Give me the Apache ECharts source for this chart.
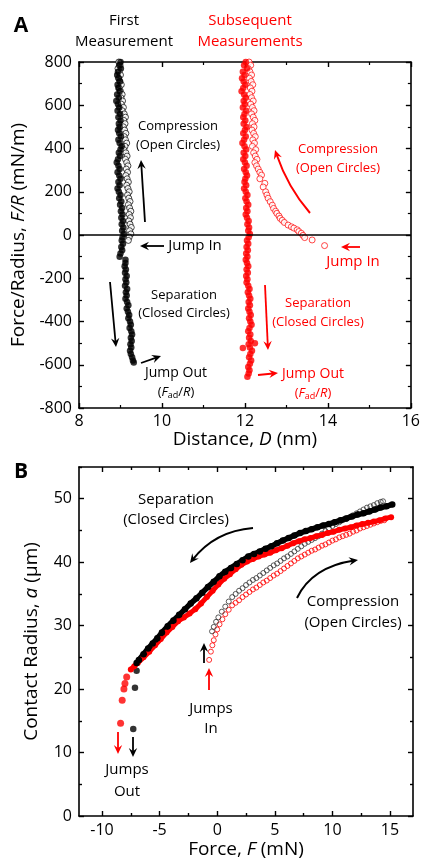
<!DOCTYPE html>
<html><head><meta charset="utf-8">
<script src="https://cdn.jsdelivr.net/npm/echarts@6/dist/echarts.min.js"></script>
<style>html,body{margin:0;padding:0;background:#fff}#c{width:423px;height:862px}</style>
</head><body><div id="c"></div>
<script>
// ---------- Panel A: Force/Radius vs Distance  [D (nm), F/R (mN/m)] ----------
const blackSepA = [[9.00,800],[8.97,785],[9.01,770],[8.94,755],[8.92,740],[8.96,725],[8.99,710],[8.93,695],[8.95,680],[8.98,665],[8.92,650],[8.96,635],[8.90,620],[8.94,605],[8.97,590],[8.93,575],[8.99,560],[8.95,545],[9.00,530],[8.96,515],[8.98,500],[8.94,485],[8.97,470],[9.01,455],[8.95,440],[8.98,425],[9.03,410],[9.00,395],[8.96,380],[8.99,365],[8.94,350],[8.91,335],[8.95,320],[8.98,305],[8.93,290],[8.97,275],[9.00,260],[8.95,245],[8.98,230],[8.93,215],[8.96,200],[9.00,185],[8.97,170],[9.02,155],[8.99,140],[9.04,125],[9.01,110],[9.05,95],[9.02,80],[9.06,65],[9.03,50],[9.07,35],[9.04,20],[9.08,5],[9.05,-10],[9.03,-25],[9.06,-40],[9.02,-55],[9.04,-70],[9.00,-85],[8.98,-100],[9.12,-115],[9.12,-130],[9.10,-145],[9.13,-160],[9.11,-175],[9.15,-190],[9.12,-205],[9.14,-220],[9.11,-235],[9.16,-250],[9.13,-265],[9.15,-280],[9.12,-295],[9.16,-310],[9.19,-325],[9.15,-340],[9.18,-355],[9.21,-370],[9.19,-385],[9.23,-400],[9.25,-415],[9.22,-430],[9.26,-445],[9.28,-460],[9.25,-475],[9.27,-490],[9.24,-505],[9.26,-520],[9.23,-535],[9.25,-550],[9.28,-565],[9.30,-580],[9.32,-590]];
const blackCompA = [[8.96,800],[8.99,785],[8.94,770],[8.97,755],[9.00,740],[8.95,725],[8.98,710],[9.02,695],[8.97,680],[9.00,665],[9.04,650],[9.01,635],[9.05,620],[9.02,605],[9.07,590],[9.04,575],[9.09,560],[9.12,545],[9.08,530],[9.11,515],[9.07,500],[9.10,485],[9.13,470],[9.09,455],[9.12,440],[9.15,425],[9.11,410],[9.08,395],[9.13,380],[9.16,365],[9.12,350],[9.15,335],[9.18,320],[9.14,305],[9.17,290],[9.13,275],[9.16,260],[9.19,245],[9.15,230],[9.18,215],[9.21,200],[9.17,185],[9.20,170],[9.23,155],[9.19,140],[9.22,125],[9.25,110],[9.21,95],[9.24,80],[9.20,65],[9.23,50],[9.26,35],[9.22,20],[9.25,5],[9.21,-10],[9.19,-25]];
const redSepA = [[12.02,800],[11.98,785],[12.05,770],[11.95,755],[11.99,740],[11.93,725],[11.97,710],[12.01,695],[11.96,680],[11.92,665],[11.98,650],[12.02,635],[11.97,620],[12.00,605],[11.95,590],[12.03,575],[11.99,560],[11.96,545],[12.01,530],[11.97,515],[12.04,500],[12.00,485],[11.96,470],[12.02,455],[11.98,440],[11.94,425],[11.99,410],[12.03,395],[11.97,380],[12.01,365],[11.96,350],[12.00,335],[12.04,320],[11.98,305],[12.02,290],[12.05,275],[12.01,260],[11.99,245],[12.03,230],[11.98,215],[12.02,200],[12.06,185],[12.01,170],[12.04,155],[12.08,140],[12.03,125],[12.06,110],[12.02,95],[12.05,80],[12.09,65],[12.06,50],[12.10,35],[12.08,20],[12.12,5],[12.09,-10],[12.05,-25],[12.08,-40],[12.04,-55],[12.07,-70],[12.03,-85],[12.06,-100],[12.02,-115],[12.05,-130],[12.08,-145],[12.04,-160],[12.07,-175],[12.03,-190],[12.06,-205],[12.04,-220],[12.08,-235],[12.11,-250],[12.07,-265],[12.10,-280],[12.13,-295],[12.09,-310],[12.12,-325],[12.08,-340],[12.11,-355],[12.14,-370],[12.10,-385],[12.13,-400],[12.16,-415],[12.11,-430],[12.08,-445],[12.13,-460],[12.10,-475],[12.14,-490],[12.24,-500],[12.09,-505],[11.95,-522],[12.12,-520],[12.17,-535],[12.13,-550],[12.10,-565],[12.15,-580],[12.12,-595],[12.08,-610],[12.11,-625],[12.09,-640],[12.06,-655]];
const redCompA = [[12.10,800],[12.14,785],[12.08,770],[12.12,755],[12.16,740],[12.11,725],[12.15,710],[12.19,695],[12.13,680],[12.17,665],[12.12,650],[12.16,635],[12.20,620],[12.14,605],[12.18,590],[12.22,575],[12.16,560],[12.20,545],[12.24,530],[12.18,515],[12.22,500],[12.17,485],[12.21,470],[12.25,455],[12.19,440],[12.23,425],[12.18,410],[12.26,395],[12.21,380],[12.25,365],[12.29,350],[12.24,335],[12.28,320],[12.32,305],[12.36,290],[12.40,277],[12.36,260],[12.48,239],[12.44,222],[12.50,200],[12.53,185],[12.56,170],[12.61,154],[12.66,138],[12.69,123],[12.74,110],[12.77,100],[12.82,88],[12.85,77],[12.90,68],[12.95,58],[13.04,46],[13.12,38],[13.18,32],[13.26,24],[13.30,16],[13.36,8],[13.40,-2],[13.44,-12],[13.62,-23],[13.92,-49]];
const xTicksA = [8, 10, 12, 14, 16];
const yTicksA = [-800, -600, -400, -200, 0, 200, 400, 600, 800];

// ---------- Panel B: Contact radius vs Force  [F (mN), a (um)] ----------
const blackSepB = [[15.2,49.1],[14.7,48.8],[14.2,48.6],[13.7,48.3],[13.2,48.0],[12.7,47.7],[12.2,47.5],[11.7,47.2],[11.2,46.9],[10.7,46.6],[10.2,46.3],[9.7,46.0],[9.2,45.8],[8.7,45.5],[8.2,45.2],[7.7,44.9],[7.2,44.6],[6.7,44.2],[6.2,43.8],[5.7,43.4],[5.2,43.0],[4.7,42.5],[4.2,42.1],[3.7,41.7],[3.2,41.3],[2.7,40.9],[2.2,40.3],[1.7,39.7],[1.2,39.1],[0.7,38.5],[0.2,37.8],[-0.3,36.9],[-0.8,36.1],[-1.3,35.2],[-1.8,34.3],[-2.3,33.5],[-2.8,32.6],[-3.3,31.7],[-3.8,30.8],[-4.3,29.9],[-4.8,28.9],[-5.2,28.0],[-5.6,27.2],[-6.0,26.4],[-6.4,25.5],[-6.8,24.6],[-7.0,24.1]];
const blackJumpOutB = [[-7.0,22.9],[-7.14,20.2],[-7.29,13.7]];
const redSepB = [[15.1,47.1],[14.6,46.9],[14.1,46.6],[13.6,46.4],[13.1,46.2],[12.6,46.0],[12.1,45.8],[11.6,45.5],[11.1,45.3],[10.6,45.1],[10.1,44.8],[9.6,44.6],[9.1,44.3],[8.6,44.1],[8.1,43.8],[7.6,43.6],[7.1,43.3],[6.6,43.0],[6.1,42.6],[5.6,42.2],[5.1,41.9],[4.6,41.5],[4.1,41.2],[3.6,40.9],[3.1,40.5],[2.6,40.1],[2.1,39.6],[1.6,38.9],[1.1,38.1],[0.6,37.4],[0.1,36.5],[-0.4,35.5],[-0.9,34.5],[-1.4,33.5],[-1.9,32.6],[-2.4,31.9],[-2.9,31.3],[-3.4,30.7],[-3.9,29.8],[-4.4,28.9],[-4.9,27.9],[-5.4,26.9],[-5.9,25.9],[-6.4,25.0],[-6.9,24.1],[-7.2,23.6],[-7.5,23.1]];
const redJumpOutB = [[-7.86,21.9],[-8.01,20.9],[-8.1,20.0],[-8.25,18.25],[-8.39,14.6]];
const blackCompB = [[-0.45,29.1],[-0.3,29.8],[-0.1,30.6],[0.1,31.3],[0.4,32.2],[0.7,33.0],[1.0,33.8],[1.3,34.5],[1.6,35.0],[1.9,35.5],[2.2,35.9],[2.5,36.4],[2.8,36.8],[3.1,37.2],[3.4,37.5],[3.7,37.9],[4.0,38.3],[4.3,38.7],[4.6,39.1],[4.9,39.5],[5.2,39.8],[5.5,40.2],[5.8,40.6],[6.1,40.9],[6.4,41.3],[6.7,41.7],[7.0,42.1],[7.3,42.5],[7.6,42.9],[7.9,43.2],[8.2,43.5],[8.5,43.8],[8.8,44.1],[9.1,44.5],[9.4,44.9],[9.7,45.3],[10.0,45.7],[10.3,46.0],[10.6,46.3],[10.9,46.6],[11.2,46.8],[11.5,47.1],[11.8,47.4],[12.1,47.7],[12.4,48.0],[12.7,48.3],[13.0,48.6],[13.3,48.8],[13.6,49.0],[13.9,49.3],[14.2,49.5],[14.4,49.6]];
const redCompB = [[-0.7,24.6],[-0.55,25.9],[-0.42,26.9],[-0.3,27.7],[-0.15,28.6],[0.0,29.4],[0.2,30.2],[0.45,31.0],[0.7,31.8],[1.0,32.5],[1.3,33.2],[1.6,33.6],[1.9,34.0],[2.2,34.5],[2.5,34.9],[2.8,35.3],[3.1,35.7],[3.4,36.0],[3.7,36.4],[4.0,36.8],[4.3,37.1],[4.6,37.5],[4.9,37.9],[5.2,38.2],[5.5,38.6],[5.8,39.0],[6.1,39.4],[6.4,39.8],[6.7,40.2],[7.0,40.6],[7.3,40.9],[7.6,41.2],[7.9,41.5],[8.2,41.8],[8.5,42.0],[8.8,42.3],[9.1,42.6],[9.4,42.8],[9.7,43.1],[10.0,43.4],[10.3,43.6],[10.6,43.9],[10.9,44.1],[11.2,44.3],[11.5,44.5],[11.8,44.8],[12.1,45.0],[12.4,45.3],[12.7,45.5],[13.0,45.7],[13.3,45.9],[13.6,46.1],[13.9,46.3],[14.2,46.5],[14.5,46.6]];
const xTicksB = [-10, -5, 0, 5, 10, 15];
const xMinorB = [-7.5, -2.5, 2.5, 7.5, 12.5];
const yTicksB = [0, 10, 20, 30, 40, 50];
const yMinorB = [5, 15, 25, 35, 45, 55];

// ---------- styling ----------
const FF = '"Open Sans", "DejaVu Sans", sans-serif';
const RED = '#ff0000';
const BLK = '#000000';
const lineS = {show:true, onZero:false, lineStyle:{color:BLK, width:1.6}};
const noLine = {show:false, onZero:false};
const tickS = {show:true, inside:true, length:5, lineStyle:{color:BLK, width:1.4}};
const minorS = {show:true, splitNumber:2, length:3, lineStyle:{color:BLK, width:1.2}};
const labS = {color:BLK, fontSize:16, fontFamily:FF};
const nameS = {color:BLK, fontSize:19, fontFamily:FF,
  rich:{i:{fontStyle:'italic', fontSize:19, fontFamily:FF, color:BLK}}};

function mirror(extra){ return Object.assign({type:'value', axisLine:lineS, axisTick:tickS, axisLabel:{show:false}, splitLine:{show:false}}, extra); }

const chart = echarts.init(document.getElementById('c'), null, {renderer:'canvas'});

// graphic helpers (annotations)
function arrowHead(tx, ty, ux, uy, c){
  const hl = 9, hw = 4.2;
  const bx = tx - ux*hl, by = ty - uy*hl;
  const nx = tx - ux*hl*0.65, ny = ty - uy*hl*0.65;
  return {type:'polygon', silent:true, z:100, shape:{points:[[tx,ty],[bx-uy*hw,by+ux*hw],[nx,ny],[bx+uy*hw,by-ux*hw]]}, style:{fill:c}};
}
function arrow(x1,y1,x2,y2,c){
  const dx=x2-x1, dy=y2-y1, L=Math.hypot(dx,dy), ux=dx/L, uy=dy/L;
  return [{type:'line', silent:true, z:100, shape:{x1:x1,y1:y1,x2:x2-ux*5,y2:y2-uy*5}, style:{stroke:c, lineWidth:1.8}}, arrowHead(x2,y2,ux,uy,c)];
}
function curve(x1,y1,cx,cy,x2,y2,c){
  const dx=x2-cx, dy=y2-cy, L=Math.hypot(dx,dy), ux=dx/L, uy=dy/L;
  return [{type:'bezierCurve', silent:true, z:100, shape:{x1:x1,y1:y1,cpx1:cx,cpy1:cy,x2:x2-ux*4,y2:y2-uy*4}, style:{stroke:c, lineWidth:2, fill:null}}, arrowHead(x2,y2,ux,uy,c)];
}
function txt(x,y,s,c,size,weight){
  return {type:'text', silent:true, z:100, x:x, y:y, style:{text:s, fill:c, font:(weight||'normal')+' '+size+'px '+FF, align:'center', verticalAlign:'middle',
    rich:{i:{fontStyle:'italic', fontSize:size, fontFamily:FF, fill:c}, s:{fontSize:Math.round(size*0.7), fontFamily:FF, fill:c, padding:[7,0,0,0]}}}};
}

const graphics = [].concat(
  [txt(21,26,'A',BLK,21,'bold'), txt(21,472,'B',BLK,21,'bold'),
   txt(124,21,'First',BLK,15), txt(124,42,'Measurement',BLK,15),
   txt(250,21,'Subsequent',RED,15), txt(250,42,'Measurements',RED,15),
   // panel A black
   txt(178,126,'Compression',BLK,13), txt(178,145,'(Open Circles)',BLK,13),
   txt(195,246,'Jump In',BLK,15),
   txt(184,295,'Separation',BLK,13), txt(184,313,'(Closed Circles)',BLK,13),
   txt(176,373,'Jump Out',BLK,14), txt(176,392,'({i|F}{s|ad}/{i|R})',BLK,13),
   // panel A red
   txt(338,149,'Compression',RED,13), txt(338,168,'(Open Circles)',RED,13),
   txt(353,262,'Jump In',RED,15),
   txt(318,303,'Separation',RED,13), txt(318,322,'(Closed Circles)',RED,13),
   txt(313,374,'Jump Out',RED,14), txt(313,393,'({i|F}{s|ad}/{i|R})',RED,13),
   // panel B
   txt(176,500,'Separation',BLK,15), txt(176,520,'(Closed Circles)',BLK,15),
   txt(353,602,'Compression',BLK,15), txt(353,623,'(Open Circles)',BLK,15),
   txt(211,709,'Jumps',BLK,15), txt(211,729,'In',BLK,15),
   txt(127,770,'Jumps',BLK,15), txt(127,792,'Out',BLK,15)],
  arrow(145,222,141,160,BLK),
  arrow(164,246,140,246,BLK),
  arrow(110,282,116,347,BLK),
  arrow(141,363,161,356,BLK),
  curve(310,213,288,188,275,150,RED),
  arrow(360,247,341,247,RED),
  arrow(265,285,268,350,RED),
  arrow(258,375,278,373,RED),
  curve(253,528,215,531,190,563,BLK),
  curve(297,598,312,567,358,560,BLK),
  arrow(204,663,204,643,BLK),
  arrow(209,690,209,668,RED),
  arrow(118,732,118,754,RED),
  arrow(133,737,133,757,BLK)
);

const option = {
  animation:false,
  backgroundColor:'#fff',
  grid:[{left:79, top:62, width:334, height:346}, {left:79, top:467, width:334, height:349}],
  xAxis:[
    {gridIndex:0, type:'value', position:'bottom', min:8, max:16, interval:2,
     axisLine:lineS, axisTick:tickS, minorTick:minorS, splitLine:{show:false}, minorSplitLine:{show:false},
     axisLabel:Object.assign({margin:5, customValues:xTicksA}, labS),
     name:'Distance, {i|D} (nm)', nameLocation:'middle', nameGap:22, nameTextStyle:nameS},
    mirror({gridIndex:0, position:'top', min:8, max:16, interval:2, minorTick:minorS}),
    {gridIndex:1, type:'value', position:'bottom', min:-12, max:17,
     axisLine:lineS, axisTick:Object.assign({customValues:xTicksB}, tickS), splitLine:{show:false},
     axisLabel:Object.assign({margin:6, customValues:xTicksB}, labS),
     name:'Force, {i|F} (mN)', nameLocation:'middle', nameGap:24, nameTextStyle:nameS},
    mirror({gridIndex:1, position:'top', min:-12, max:17, axisTick:Object.assign({customValues:xTicksB}, tickS)}),
    mirror({gridIndex:1, position:'bottom', min:-12, max:17, axisLine:noLine, axisTick:Object.assign({}, tickS, {length:3, customValues:xMinorB})}),
    mirror({gridIndex:1, position:'top', min:-12, max:17, axisLine:noLine, axisTick:Object.assign({}, tickS, {length:3, customValues:xMinorB})})
  ],
  yAxis:[
    {gridIndex:0, type:'value', position:'left', min:-800, max:800, interval:200,
     axisLine:lineS, axisTick:tickS, minorTick:minorS, splitLine:{show:false}, minorSplitLine:{show:false},
     axisLabel:Object.assign({margin:7, customValues:yTicksA}, labS),
     name:'Force/Radius, {i|F/R} (mN/m)', nameLocation:'middle', nameGap:38, nameTextStyle:nameS},
    mirror({gridIndex:0, position:'right', min:-800, max:800, interval:200, minorTick:minorS}),
    {gridIndex:1, type:'value', position:'left', min:0, max:55,
     axisLine:lineS, axisTick:Object.assign({customValues:yTicksB}, tickS), splitLine:{show:false},
     axisLabel:Object.assign({margin:7, customValues:yTicksB}, labS),
     name:'Contact Radius, {i|a} (μm)', nameLocation:'middle', nameGap:38, nameTextStyle:nameS},
    mirror({gridIndex:1, position:'right', min:0, max:55, axisTick:Object.assign({customValues:yTicksB}, tickS)}),
    mirror({gridIndex:1, position:'left', min:0, max:55, axisLine:noLine, axisTick:Object.assign({}, tickS, {length:3, customValues:yMinorB})}),
    mirror({gridIndex:1, position:'right', min:0, max:55, axisLine:noLine, axisTick:Object.assign({}, tickS, {length:3, customValues:yMinorB})})
  ],
  series:[
    {name:'blackCompA', type:'scatter', xAxisIndex:0, yAxisIndex:0, data:blackCompA, symbolSize:6, itemStyle:{color:'#fff', borderColor:BLK, borderWidth:0.9}},
    {name:'blackSepA', type:'scatter', xAxisIndex:0, yAxisIndex:0, data:blackSepA, symbolSize:6.5, itemStyle:{color:BLK},
     markLine:{silent:true, symbol:'none', label:{show:false}, lineStyle:{color:BLK, width:1.6, type:'solid'}, data:[{yAxis:0}]}},
    {name:'redCompA', type:'scatter', xAxisIndex:0, yAxisIndex:0, data:redCompA, symbolSize:6, itemStyle:{color:'#fff', borderColor:RED, borderWidth:0.9}},
    {name:'redSepA', type:'scatter', xAxisIndex:0, yAxisIndex:0, data:redSepA, symbolSize:6.5, itemStyle:{color:RED}},

    {name:'redSepB', type:'line', xAxisIndex:2, yAxisIndex:2, data:redSepB, symbol:'circle', symbolSize:6, showSymbol:true,
     lineStyle:{color:RED, width:5}, itemStyle:{color:RED}},
    {name:'blackSepB', type:'line', xAxisIndex:2, yAxisIndex:2, data:blackSepB, symbol:'circle', symbolSize:6.5, showSymbol:true,
     lineStyle:{color:BLK, width:5.5}, itemStyle:{color:BLK}},
    {name:'redJumpOutB', type:'scatter', xAxisIndex:2, yAxisIndex:2, data:redJumpOutB, symbolSize:7, itemStyle:{color:RED}},
    {name:'blackJumpOutB', type:'scatter', xAxisIndex:2, yAxisIndex:2, data:blackJumpOutB, symbolSize:6.5, itemStyle:{color:BLK}},
    {name:'redCompB', type:'scatter', xAxisIndex:2, yAxisIndex:2, data:redCompB, symbolSize:5, itemStyle:{color:'rgba(255,255,255,0)', borderColor:RED, borderWidth:1}},
    {name:'blackCompB', type:'scatter', xAxisIndex:2, yAxisIndex:2, data:blackCompB, symbolSize:5, itemStyle:{color:'rgba(255,255,255,0)', borderColor:'#333', borderWidth:1}}
  ],
  graphic:graphics
};
chart.setOption(option);
</script></body></html>
